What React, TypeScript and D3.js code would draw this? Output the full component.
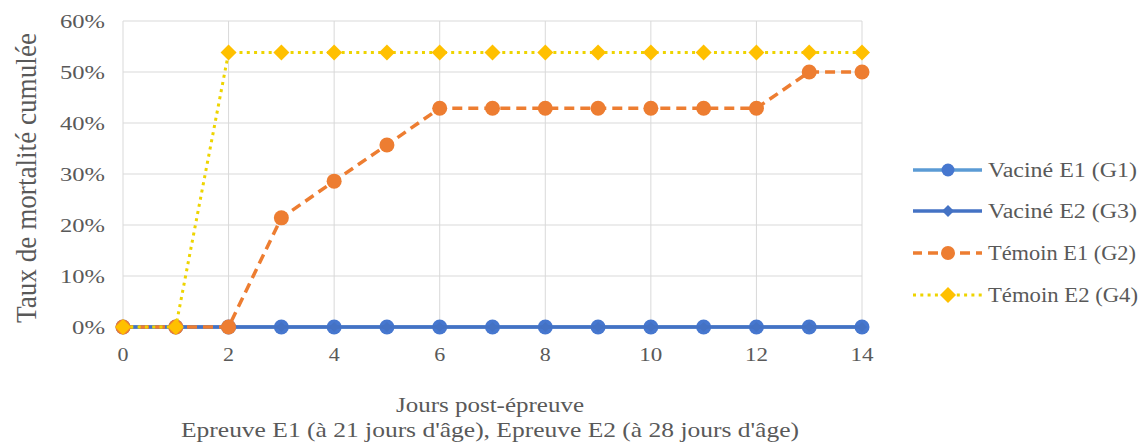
import React from "react";
import * as d3 from "d3";

const days = [0, 1, 2, 3, 4, 5, 6, 7, 8, 9, 10, 11, 12, 13, 14];
const vacineE1 = [0, 0, 0, 0, 0, 0, 0, 0, 0, 0, 0, 0, 0, 0, 0];
const vacineE2 = [0, 0, 0, 0, 0, 0, 0, 0, 0, 0, 0, 0, 0, 0, 0];
const temoinE1 = [0, 0, 0, 0.214, 0.286, 0.357, 0.429, 0.429, 0.429, 0.429, 0.429, 0.429, 0.429, 0.5, 0.5];
const temoinE2 = [0, 0, 0.538, 0.538, 0.538, 0.538, 0.538, 0.538, 0.538, 0.538, 0.538, 0.538, 0.538, 0.538, 0.538];
const xTicks = [0, 2, 4, 6, 8, 10, 12, 14];
const yTicks = [0, 0.1, 0.2, 0.3, 0.4, 0.5, 0.6];
const yTickLabels = ["0%", "10%", "20%", "30%", "40%", "50%", "60%"];
const seriesNames = ["Vaciné E1 (G1)", "Vaciné E2 (G3)", "Témoin E1 (G2)", "Témoin E2 (G4)"];
const yTitle = "Taux de mortalité cumulée";
const xTitle1 = "Jours post-épreuve";
const xTitle2 = "Epreuve E1 (à 21 jours d'âge), Epreuve E2 (à 28 jours d'âge)";

const FONT = "Liberation Serif";

type Style = {
  color: string;
  lineColor: string;
  width: number;
  dash: string | null;
  marker: "circle" | "diamond";
  size: number;
  legendSize: number;
};

const styles: Style[] = [
  { color: "#4677CF", lineColor: "#5B9BD5", width: 3.5, dash: null, marker: "circle", size: 7.5, legendSize: 6.5 },
  { color: "#4472C4", lineColor: "#4472C4", width: 3.5, dash: null, marker: "diamond", size: 5, legendSize: 6 },
  { color: "#ED7D31", lineColor: "#ED7D31", width: 3.5, dash: "10,6", marker: "circle", size: 7.5, legendSize: 7 },
  { color: "#FFC000", lineColor: "#EED400", width: 3, dash: "3,4.3", marker: "diamond", size: 8, legendSize: 8 },
];

function Marker({ type, x, y, r, fill }: { type: string; x: number; y: number; r: number; fill: string }) {
  if (type === "circle") return <circle cx={x} cy={y} r={r} fill={fill} />;
  const p = `M${x},${y - r}L${x + r},${y}L${x},${y + r}L${x - r},${y}Z`;
  return <path d={p} fill={fill} />;
}

export default function App() {
  const W = 1143;
  const H = 446;
  const x = d3.scaleLinear().domain([0, 14]).range([123, 862]);
  const y = d3.scaleLinear().domain([0, 0.6]).range([327, 21]);
  const allSeries = [vacineE1, vacineE2, temoinE1, temoinE2];
  const line = d3
    .line<number>()
    .x((_, i) => x(days[i]))
    .y((d) => y(d));

  const yLabelWidths = [33, 45, 45, 45, 45, 45, 45];
  const legendY = [170, 211, 253, 295];
  const legendWidths = [149, 149, 148, 150];

  return (
    <svg width={W} height={H} style={{ position: "absolute", left: 0, top: 0, background: "#fff" }}>
      <style>{`text { font-family: "Liberation Serif", "Times New Roman", Tinos, serif; }`}</style>
      <rect x={0} y={0} width={W} height={H} fill="#fff" />
      {yTicks.map((t) => (
        <line key={"gy" + t} x1={x(0)} x2={x(14)} y1={y(t)} y2={y(t)} stroke="#d9d9d9" strokeWidth={1} />
      ))}
      {xTicks.map((t) => (
        <line key={"gx" + t} x1={x(t)} x2={x(t)} y1={y(0.6)} y2={y(0)} stroke="#d9d9d9" strokeWidth={1} />
      ))}
      {yTicks.map((t, i) => (
        <text
          key={"yl" + t}
          x={105}
          y={y(t) + 7}
          textAnchor="end"
          fontSize={19}
          fill="#595959"
          fontFamily={FONT}
          textLength={yLabelWidths[i]}
          lengthAdjust="spacingAndGlyphs"
        >
          {yTickLabels[i]}
        </text>
      ))}
      {xTicks.map((t) => (
        <text
          key={"xl" + t}
          x={x(t)}
          y={361}
          textAnchor="middle"
          fontSize={19}
          fill="#595959"
          fontFamily={FONT}
          textLength={t >= 10 ? 23 : 11}
          lengthAdjust="spacingAndGlyphs"
        >
          {String(t)}
        </text>
      ))}
      {allSeries.map((s, si) => {
        const st = styles[si];
        return (
          <g key={"s" + si}>
            <path
              d={line(s) || ""}
              fill="none"
              stroke={st.lineColor}
              strokeWidth={st.width}
              strokeDasharray={st.dash || undefined}
            />
            {s.map((v, i) => (
              <Marker key={i} type={st.marker} x={x(days[i])} y={y(v)} r={st.size} fill={st.color} />
            ))}
          </g>
        );
      })}
      <g transform="translate(26,178) scale(1.2,1)">
        <text
          transform="rotate(-90)"
          textAnchor="middle"
          dominantBaseline="central"
          fontSize={24}
          fill="#595959"
          fontFamily={FONT}
          textLength={290}
          lengthAdjust="spacingAndGlyphs"
        >
          {yTitle}
        </text>
      </g>
      <text x={490} y={412} textAnchor="middle" fontSize={22} fill="#595959" fontFamily={FONT} textLength={188} lengthAdjust="spacingAndGlyphs">
        {xTitle1}
      </text>
      <text x={490} y={437} textAnchor="middle" fontSize={22} fill="#595959" fontFamily={FONT} textLength={618} lengthAdjust="spacingAndGlyphs">
        {xTitle2}
      </text>
      {seriesNames.map((n, i) => {
        const st = styles[i];
        const ly = legendY[i];
        return (
          <g key={"lg" + i}>
            <line
              x1={913}
              x2={982}
              y1={ly}
              y2={ly}
              stroke={st.lineColor}
              strokeWidth={st.width}
              strokeDasharray={st.dash || undefined}
              strokeDashoffset={i === 2 ? 1 : 0}
            />
            <Marker type={st.marker} x={948} y={ly} r={st.legendSize} fill={st.color} />
            <text
              x={988}
              y={ly + 7}
              fontSize={20}
              fill="#595959"
              fontFamily={FONT}
              textLength={legendWidths[i]}
              lengthAdjust="spacingAndGlyphs"
            >
              {n}
            </text>
          </g>
        );
      })}
    </svg>
  );
}
